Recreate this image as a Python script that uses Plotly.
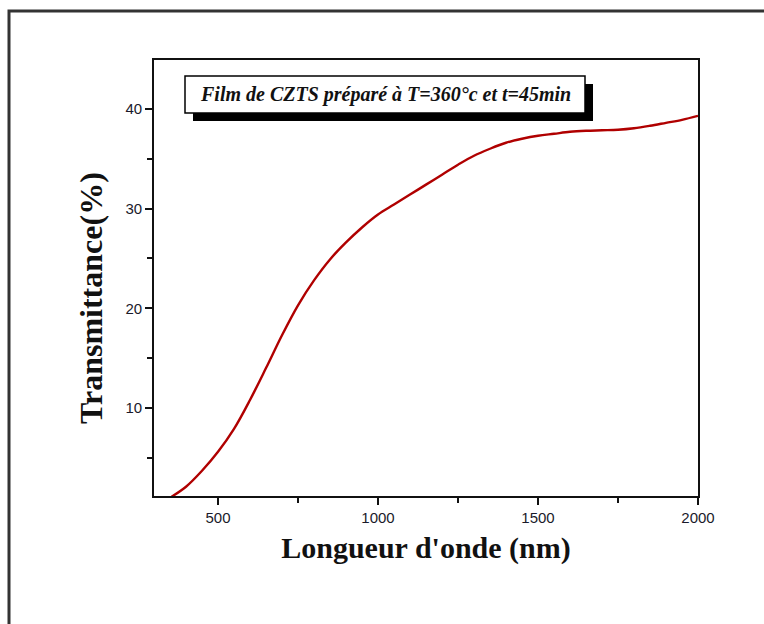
import plotly.graph_objects as go

# Transmittance spectrum of a CZTS film
wavelength_nm = [355, 400, 450, 500, 550, 600, 650, 700, 750, 800, 850, 900, 950,
                 1000, 1050, 1100, 1150, 1200, 1250, 1300, 1350, 1400, 1450, 1500, 1550,
                 1600, 1650, 1700, 1750, 1800, 1850, 1900, 1950, 2000]
transmittance = [1.1, 2.1, 3.7, 5.6, 7.9, 10.8, 14.0, 17.3, 20.3, 22.8, 24.9, 26.6, 28.1,
                 29.4, 30.4, 31.4, 32.4, 33.4, 34.4, 35.3, 36.0, 36.6, 37.0, 37.3, 37.5,
                 37.7, 37.8, 37.85, 37.9, 38.05, 38.3, 38.6, 38.9, 39.3]

x_ticks = [500, 1000, 1500, 2000]
y_ticks = [10, 20, 30, 40]
x_title = "Longueur d'onde (nm)"
y_title = "Transmittance(%)"
caption = "Film de CZTS préparé à T=360°c et t=45min"

W, H = 764, 624
L, R, T, B = 154, 66, 60, 128
pw, ph = W - L - R, H - T - B


def px(x):
    return (x - L) / pw


def py(y):
    return (H - B - y) / ph


fig = go.Figure()
fig.add_trace(go.Scatter(
    x=wavelength_nm, y=transmittance, mode="lines",
    line=dict(color="#b00000", width=2.4, shape="spline", smoothing=1.0),
    showlegend=False, hoverinfo="skip",
))

tick_font = dict(family="Liberation Sans, Arial", size=15, color="#1a1a2a")
title_font = dict(family="Liberation Serif, Times New Roman", size=30, color="#111111")

fig.update_xaxes(
    range=[300, 2000], tickvals=x_ticks, ticktext=[str(v) for v in x_ticks],
    ticks="outside", ticklen=7, tickwidth=1.5, tickcolor="#111",
    showline=True, linecolor="#111", linewidth=1.6, mirror=True,
    showgrid=False, zeroline=False, tickfont=tick_font,
    minor=dict(tickvals=[750, 1250, 1750], ticks="outside", ticklen=5, tickwidth=1.5, tickcolor="#111"),
    title=dict(text="<b>" + x_title + "</b>", font=title_font, standoff=12),
)
fig.update_yaxes(
    range=[1.17, 44.9], tickvals=y_ticks, ticktext=[str(v) for v in y_ticks],
    ticks="outside", ticklen=7, tickwidth=1.5, tickcolor="#111",
    showline=True, linecolor="#111", linewidth=1.6, mirror=True,
    showgrid=False, zeroline=False, tickfont=tick_font,
    minor=dict(tickvals=[5, 15, 25, 35], ticks="outside", ticklen=5, tickwidth=1.5, tickcolor="#111"),
)

# y-axis title, placed a little below the vertical centre of the plot
fig.add_annotation(
    xref="paper", yref="paper", x=px(91), y=py(298),
    text="<b>" + y_title + "</b>", showarrow=False, textangle=-90,
    font=dict(family="Liberation Serif, Times New Roman", size=32, color="#111111"),
    xanchor="center", yanchor="middle",
)

shapes = [
    # outer frame around the figure
    dict(type="rect", xref="paper", yref="paper",
         x0=px(9), x1=px(820), y0=py(700), y1=py(11),
         line=dict(color="#333333", width=3), fillcolor="rgba(0,0,0,0)", layer="below"),
    # caption box shadow
    dict(type="rect", xref="paper", yref="paper",
         x0=px(193), x1=px(593), y0=py(121), y1=py(84),
         line=dict(width=0), fillcolor="#000000", layer="above"),
    # caption box
    dict(type="rect", xref="paper", yref="paper",
         x0=px(185), x1=px(585), y0=py(113), y1=py(76),
         line=dict(color="#000000", width=1.5), fillcolor="#ffffff", layer="above"),
]

fig.add_annotation(
    xref="paper", yref="paper", x=px(385), y=py(94.5),
    text="<b><i>" + caption + "</i></b>", showarrow=False,
    font=dict(family="Liberation Serif, Times New Roman", size=20, color="#111111"),
    xanchor="center", yanchor="middle",
)

fig.update_layout(
    width=W, height=H,
    margin=dict(l=L, r=R, t=T, b=B),
    paper_bgcolor="#ffffff", plot_bgcolor="#ffffff",
    shapes=shapes,
)

fig.write_html("out.html")
